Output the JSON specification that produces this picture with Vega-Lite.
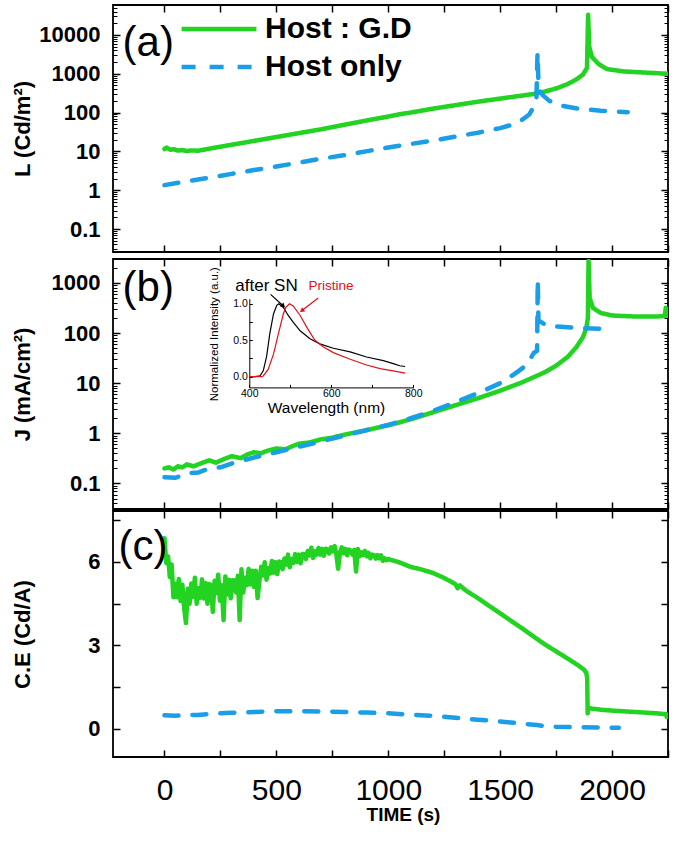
{
"$schema":"https://vega.github.io/schema/vega-lite/v6.json",
"padding":{"left":10,"top":3,"right":0,"bottom":0},
"background":"white",
"config":{"view":{"stroke":"black","strokeWidth":1.8},"font":"Liberation Sans",
 "axis":{"tickColor":"black","tickWidth":1.5,"domain":false,"grid":false,"labelColor":"black","titleColor":"black","labelFont":"Liberation Sans","titleFont":"Liberation Sans","labelOverlap":false,"labelFlush":false}},
"datasets":{
"L":[
{"s":"Host : G.D","t":0,"v":11.5},{"s":"Host : G.D","t":10,"v":12.5},{"s":"Host : G.D","t":20,"v":11.5},{"s":"Host : G.D","t":30,"v":11},{"s":"Host : G.D","t":40,"v":11.4},{"s":"Host : G.D","t":60,"v":10.5},{"s":"Host : G.D","t":80,"v":10.8},{"s":"Host : G.D","t":100,"v":10.2},{"s":"Host : G.D","t":120,"v":10.6},{"s":"Host : G.D","t":150,"v":10.4},{"s":"Host : G.D","t":200,"v":11.7},{"s":"Host : G.D","t":237,"v":12.8},{"s":"Host : G.D","t":300,"v":14.8},{"s":"Host : G.D","t":400,"v":18.6},{"s":"Host : G.D","t":500,"v":23.4},{"s":"Host : G.D","t":600,"v":29.5},{"s":"Host : G.D","t":700,"v":37},{"s":"Host : G.D","t":800,"v":48},{"s":"Host : G.D","t":900,"v":62},{"s":"Host : G.D","t":1000,"v":79},{"s":"Host : G.D","t":1054,"v":91},{"s":"Host : G.D","t":1100,"v":100},{"s":"Host : G.D","t":1200,"v":126},{"s":"Host : G.D","t":1277,"v":148},{"s":"Host : G.D","t":1400,"v":190},{"s":"Host : G.D","t":1500,"v":229},{"s":"Host : G.D","t":1600,"v":275},{"s":"Host : G.D","t":1648,"v":300},{"s":"Host : G.D","t":1700,"v":347},{"s":"Host : G.D","t":1750,"v":417},{"s":"Host : G.D","t":1800,"v":537},{"s":"Host : G.D","t":1840,"v":708},{"s":"Host : G.D","t":1870,"v":955},{"s":"Host : G.D","t":1888,"v":1410},{"s":"Host : G.D","t":1893,"v":33000},{"s":"Host : G.D","t":1898,"v":5000},{"s":"Host : G.D","t":1910,"v":2700},{"s":"Host : G.D","t":1940,"v":1780},{"s":"Host : G.D","t":1977,"v":1320},{"s":"Host : G.D","t":2050,"v":1150},{"s":"Host : G.D","t":2150,"v":1070},{"s":"Host : G.D","t":2250,"v":1000},
{"s":"Host only","t":0,"v":1.35},{"s":"Host only","t":100,"v":1.7},{"s":"Host only","t":200,"v":2.09},{"s":"Host only","t":300,"v":2.63},{"s":"Host only","t":400,"v":3.31},{"s":"Host only","t":500,"v":4.07},{"s":"Host only","t":600,"v":5.13},{"s":"Host only","t":700,"v":6.46},{"s":"Host only","t":800,"v":7.94},{"s":"Host only","t":900,"v":10},{"s":"Host only","t":1000,"v":12.6},{"s":"Host only","t":1100,"v":15.5},{"s":"Host only","t":1200,"v":19.1},{"s":"Host only","t":1300,"v":24},{"s":"Host only","t":1400,"v":30.2},{"s":"Host only","t":1500,"v":39.8},{"s":"Host only","t":1560,"v":50},{"s":"Host only","t":1600,"v":66},{"s":"Host only","t":1630,"v":89},{"s":"Host only","t":1650,"v":141},{"s":"Host only","t":1662,"v":224},{"s":"Host only","t":1667,"v":3500},{"s":"Host only","t":1672,"v":400},{"s":"Host only","t":1690,"v":282},{"s":"Host only","t":1720,"v":200},{"s":"Host only","t":1780,"v":148},{"s":"Host only","t":1850,"v":126},{"s":"Host only","t":1950,"v":112},{"s":"Host only","t":2070,"v":102}
],
"J":[
{"s":"Host : G.D","t":0,"v":0.2},{"s":"Host : G.D","t":20,"v":0.21},{"s":"Host : G.D","t":40,"v":0.19},{"s":"Host : G.D","t":60,"v":0.22},{"s":"Host : G.D","t":80,"v":0.21},{"s":"Host : G.D","t":100,"v":0.24},{"s":"Host : G.D","t":130,"v":0.22},{"s":"Host : G.D","t":160,"v":0.25},{"s":"Host : G.D","t":200,"v":0.29},{"s":"Host : G.D","t":230,"v":0.26},{"s":"Host : G.D","t":260,"v":0.3},{"s":"Host : G.D","t":300,"v":0.35},{"s":"Host : G.D","t":340,"v":0.32},{"s":"Host : G.D","t":370,"v":0.38},{"s":"Host : G.D","t":400,"v":0.42},{"s":"Host : G.D","t":430,"v":0.4},{"s":"Host : G.D","t":460,"v":0.45},{"s":"Host : G.D","t":500,"v":0.5},{"s":"Host : G.D","t":540,"v":0.48},{"s":"Host : G.D","t":570,"v":0.55},{"s":"Host : G.D","t":600,"v":0.62},{"s":"Host : G.D","t":650,"v":0.66},{"s":"Host : G.D","t":700,"v":0.76},{"s":"Host : G.D","t":750,"v":0.82},{"s":"Host : G.D","t":800,"v":0.93},{"s":"Host : G.D","t":900,"v":1.15},{"s":"Host : G.D","t":1000,"v":1.45},{"s":"Host : G.D","t":1100,"v":1.9},{"s":"Host : G.D","t":1200,"v":2.63},{"s":"Host : G.D","t":1300,"v":3.63},{"s":"Host : G.D","t":1400,"v":5.0},{"s":"Host : G.D","t":1500,"v":7.1},{"s":"Host : G.D","t":1600,"v":10.5},{"s":"Host : G.D","t":1700,"v":16.6},{"s":"Host : G.D","t":1750,"v":22.4},{"s":"Host : G.D","t":1800,"v":33},{"s":"Host : G.D","t":1840,"v":52},{"s":"Host : G.D","t":1870,"v":83},{"s":"Host : G.D","t":1885,"v":126},{"s":"Host : G.D","t":1892,"v":200},{"s":"Host : G.D","t":1895,"v":2750},{"s":"Host : G.D","t":1900,"v":500},{"s":"Host : G.D","t":1915,"v":316},{"s":"Host : G.D","t":1950,"v":251},{"s":"Host : G.D","t":2000,"v":224},{"s":"Host : G.D","t":2100,"v":214},{"s":"Host : G.D","t":2200,"v":214},{"s":"Host : G.D","t":2235,"v":219},{"s":"Host : G.D","t":2240,"v":320},{"s":"Host : G.D","t":2245,"v":224},{"s":"Host : G.D","t":2250,"v":219},
{"s":"Host only","t":0,"v":0.133},{"s":"Host only","t":50,"v":0.13},{"s":"Host only","t":100,"v":0.16},{"s":"Host only","t":150,"v":0.165},{"s":"Host only","t":200,"v":0.2},{"s":"Host only","t":250,"v":0.21},{"s":"Host only","t":300,"v":0.25},{"s":"Host only","t":400,"v":0.33},{"s":"Host only","t":500,"v":0.42},{"s":"Host only","t":600,"v":0.54},{"s":"Host only","t":700,"v":0.69},{"s":"Host only","t":800,"v":0.89},{"s":"Host only","t":900,"v":1.15},{"s":"Host only","t":1000,"v":1.48},{"s":"Host only","t":1100,"v":2.0},{"s":"Host only","t":1200,"v":2.82},{"s":"Host only","t":1300,"v":4.17},{"s":"Host only","t":1400,"v":6.3},{"s":"Host only","t":1500,"v":10},{"s":"Host only","t":1560,"v":14.8},{"s":"Host only","t":1600,"v":20},{"s":"Host only","t":1630,"v":28},{"s":"Host only","t":1650,"v":40},{"s":"Host only","t":1665,"v":44},{"s":"Host only","t":1668,"v":1150},{"s":"Host only","t":1671,"v":178},{"s":"Host only","t":1700,"v":148},{"s":"Host only","t":1750,"v":135},{"s":"Host only","t":1850,"v":126},{"s":"Host only","t":1982,"v":120}
],
"CE":[
{"s":"Host : G.D","t":0,"v":6.85},{"s":"Host : G.D","t":8,"v":5.96},{"s":"Host : G.D","t":16,"v":6.2},{"s":"Host : G.D","t":24,"v":5.45},{"s":"Host : G.D","t":32,"v":5.91},{"s":"Host : G.D","t":40,"v":4.73},{"s":"Host : G.D","t":48,"v":5.21},{"s":"Host : G.D","t":56,"v":4.73},{"s":"Host : G.D","t":64,"v":5.38},{"s":"Host : G.D","t":72,"v":4.59},{"s":"Host : G.D","t":80,"v":5.18},{"s":"Host : G.D","t":88,"v":4.33},{"s":"Host : G.D","t":96,"v":3.8},{"s":"Host : G.D","t":104,"v":5.03},{"s":"Host : G.D","t":112,"v":4.49},{"s":"Host : G.D","t":120,"v":5.22},{"s":"Host : G.D","t":128,"v":4.74},{"s":"Host : G.D","t":136,"v":5.43},{"s":"Host : G.D","t":144,"v":4.49},{"s":"Host : G.D","t":152,"v":5.05},{"s":"Host : G.D","t":160,"v":4.71},{"s":"Host : G.D","t":168,"v":5.37},{"s":"Host : G.D","t":176,"v":4.68},{"s":"Host : G.D","t":184,"v":5.23},{"s":"Host : G.D","t":192,"v":4.49},{"s":"Host : G.D","t":200,"v":5.2},{"s":"Host : G.D","t":208,"v":5.16},{"s":"Host : G.D","t":216,"v":4.2},{"s":"Host : G.D","t":224,"v":5.32},{"s":"Host : G.D","t":232,"v":4.88},{"s":"Host : G.D","t":240,"v":5.54},{"s":"Host : G.D","t":248,"v":4.6},{"s":"Host : G.D","t":256,"v":5.16},{"s":"Host : G.D","t":264,"v":3.9},{"s":"Host : G.D","t":272,"v":5.47},{"s":"Host : G.D","t":280,"v":4.83},{"s":"Host : G.D","t":288,"v":5.36},{"s":"Host : G.D","t":296,"v":4.69},{"s":"Host : G.D","t":304,"v":5.34},{"s":"Host : G.D","t":312,"v":5.33},{"s":"Host : G.D","t":320,"v":4.9},{"s":"Host : G.D","t":328,"v":5.5},{"s":"Host : G.D","t":336,"v":3.9},{"s":"Host : G.D","t":344,"v":5.73},{"s":"Host : G.D","t":352,"v":4.9},{"s":"Host : G.D","t":360,"v":5.43},{"s":"Host : G.D","t":368,"v":5.16},{"s":"Host : G.D","t":376,"v":5.74},{"s":"Host : G.D","t":384,"v":5.19},{"s":"Host : G.D","t":392,"v":5.68},{"s":"Host : G.D","t":400,"v":5.1},{"s":"Host : G.D","t":408,"v":5.68},{"s":"Host : G.D","t":416,"v":4.7},{"s":"Host : G.D","t":424,"v":5.3},{"s":"Host : G.D","t":432,"v":5.82},{"s":"Host : G.D","t":440,"v":5.51},{"s":"Host : G.D","t":448,"v":5.99},{"s":"Host : G.D","t":456,"v":5.36},{"s":"Host : G.D","t":464,"v":5.77},{"s":"Host : G.D","t":472,"v":5.58},{"s":"Host : G.D","t":480,"v":6.03},{"s":"Host : G.D","t":488,"v":5.61},{"s":"Host : G.D","t":496,"v":5.99},{"s":"Host : G.D","t":504,"v":5.56},{"s":"Host : G.D","t":512,"v":6.01},{"s":"Host : G.D","t":520,"v":5.99},{"s":"Host : G.D","t":528,"v":5.74},{"s":"Host : G.D","t":536,"v":6.12},{"s":"Host : G.D","t":544,"v":5.9},{"s":"Host : G.D","t":552,"v":6.26},{"s":"Host : G.D","t":560,"v":5.81},{"s":"Host : G.D","t":568,"v":6.1},{"s":"Host : G.D","t":576,"v":5.96},{"s":"Host : G.D","t":584,"v":6.28},{"s":"Host : G.D","t":592,"v":6.0},{"s":"Host : G.D","t":600,"v":6.26},{"s":"Host : G.D","t":608,"v":5.95},{"s":"Host : G.D","t":616,"v":6.28},{"s":"Host : G.D","t":624,"v":6.28},{"s":"Host : G.D","t":632,"v":6.1},{"s":"Host : G.D","t":640,"v":6.39},{"s":"Host : G.D","t":648,"v":6.23},{"s":"Host : G.D","t":656,"v":6.51},{"s":"Host : G.D","t":664,"v":6.14},{"s":"Host : G.D","t":672,"v":6.38},{"s":"Host : G.D","t":680,"v":6.26},{"s":"Host : G.D","t":688,"v":6.5},{"s":"Host : G.D","t":696,"v":6.26},{"s":"Host : G.D","t":704,"v":6.47},{"s":"Host : G.D","t":712,"v":6.22},{"s":"Host : G.D","t":720,"v":6.47},{"s":"Host : G.D","t":728,"v":6.45},{"s":"Host : G.D","t":736,"v":6.3},{"s":"Host : G.D","t":744,"v":6.52},{"s":"Host : G.D","t":752,"v":6.38},{"s":"Host : G.D","t":760,"v":6.57},{"s":"Host : G.D","t":768,"v":6.28},{"s":"Host : G.D","t":776,"v":5.75},{"s":"Host : G.D","t":784,"v":6.33},{"s":"Host : G.D","t":792,"v":6.52},{"s":"Host : G.D","t":800,"v":6.31},{"s":"Host : G.D","t":808,"v":6.47},{"s":"Host : G.D","t":816,"v":6.24},{"s":"Host : G.D","t":824,"v":6.44},{"s":"Host : G.D","t":832,"v":6.41},{"s":"Host : G.D","t":840,"v":6.26},{"s":"Host : G.D","t":848,"v":6.43},{"s":"Host : G.D","t":856,"v":5.65},{"s":"Host : G.D","t":864,"v":6.46},{"s":"Host : G.D","t":872,"v":6.2},{"s":"Host : G.D","t":880,"v":6.34},{"s":"Host : G.D","t":888,"v":6.24},{"s":"Host : G.D","t":896,"v":6.39},{"s":"Host : G.D","t":904,"v":6.2},{"s":"Host : G.D","t":912,"v":6.32},{"s":"Host : G.D","t":920,"v":6.13},{"s":"Host : G.D","t":928,"v":6.26},{"s":"Host : G.D","t":936,"v":6.24},{"s":"Host : G.D","t":944,"v":6.12},{"s":"Host : G.D","t":952,"v":6.24},{"s":"Host : G.D","t":960,"v":6.13},{"s":"Host : G.D","t":968,"v":6.23},{"s":"Host : G.D","t":976,"v":6.04},{"s":"Host : G.D","t":984,"v":6.13},{"s":"Host : G.D","t":992,"v":6.06},{"s":"Host : G.D","t":1000,"v":6.1},{"s":"Host : G.D","t":1050,"v":5.98},{"s":"Host : G.D","t":1100,"v":5.82},{"s":"Host : G.D","t":1150,"v":5.72},{"s":"Host : G.D","t":1200,"v":5.6},{"s":"Host : G.D","t":1250,"v":5.42},{"s":"Host : G.D","t":1300,"v":5.2},{"s":"Host : G.D","t":1310,"v":5.05},{"s":"Host : G.D","t":1320,"v":5.15},{"s":"Host : G.D","t":1350,"v":4.95},{"s":"Host : G.D","t":1400,"v":4.7},{"s":"Host : G.D","t":1450,"v":4.42},{"s":"Host : G.D","t":1500,"v":4.15},{"s":"Host : G.D","t":1550,"v":3.87},{"s":"Host : G.D","t":1600,"v":3.6},{"s":"Host : G.D","t":1650,"v":3.31},{"s":"Host : G.D","t":1700,"v":3.03},{"s":"Host : G.D","t":1750,"v":2.78},{"s":"Host : G.D","t":1800,"v":2.53},{"s":"Host : G.D","t":1850,"v":2.27},{"s":"Host : G.D","t":1875,"v":2.12},{"s":"Host : G.D","t":1885,"v":2.0},{"s":"Host : G.D","t":1889,"v":1.8},{"s":"Host : G.D","t":1891,"v":0.55},{"s":"Host : G.D","t":1894,"v":0.75},{"s":"Host : G.D","t":1910,"v":0.72},{"s":"Host : G.D","t":1950,"v":0.68},{"s":"Host : G.D","t":2000,"v":0.65},{"s":"Host : G.D","t":2100,"v":0.6},{"s":"Host : G.D","t":2200,"v":0.55},{"s":"Host : G.D","t":2240,"v":0.52},{"s":"Host : G.D","t":2245,"v":0.42},{"s":"Host : G.D","t":2250,"v":0.5},
{"s":"Host only","t":0,"v":0.48},{"s":"Host only","t":50,"v":0.46},{"s":"Host only","t":100,"v":0.5},{"s":"Host only","t":150,"v":0.49},{"s":"Host only","t":200,"v":0.53},{"s":"Host only","t":300,"v":0.57},{"s":"Host only","t":400,"v":0.6},{"s":"Host only","t":500,"v":0.63},{"s":"Host only","t":600,"v":0.63},{"s":"Host only","t":700,"v":0.62},{"s":"Host only","t":800,"v":0.6},{"s":"Host only","t":900,"v":0.58},{"s":"Host only","t":1000,"v":0.55},{"s":"Host only","t":1100,"v":0.5},{"s":"Host only","t":1200,"v":0.46},{"s":"Host only","t":1300,"v":0.39},{"s":"Host only","t":1400,"v":0.32},{"s":"Host only","t":1500,"v":0.26},{"s":"Host only","t":1600,"v":0.18},{"s":"Host only","t":1665,"v":0.13},{"s":"Host only","t":1700,"v":0.09},{"s":"Host only","t":1750,"v":0.07},{"s":"Host only","t":1850,"v":0.05},{"s":"Host only","t":1950,"v":0.04},{"s":"Host only","t":2030,"v":0.03}
],
"spec":[
{"s":"after SN","w":400,"i":0},{"s":"after SN","w":414,"i":0},{"s":"after SN","w":426,"i":0.01},{"s":"after SN","w":434,"i":0.08},{"s":"after SN","w":442,"i":0.27},{"s":"after SN","w":450,"i":0.59},{"s":"after SN","w":459,"i":0.86},{"s":"after SN","w":467,"i":0.98},{"s":"after SN","w":472,"i":1.0},{"s":"after SN","w":483,"i":0.95},{"s":"after SN","w":495,"i":0.84},{"s":"after SN","w":507,"i":0.75},{"s":"after SN","w":524,"i":0.63},{"s":"after SN","w":548,"i":0.52},{"s":"after SN","w":572,"i":0.45},{"s":"after SN","w":605,"i":0.39},{"s":"after SN","w":646,"i":0.34},{"s":"after SN","w":686,"i":0.27},{"s":"after SN","w":727,"i":0.22},{"s":"after SN","w":751,"i":0.18},{"s":"after SN","w":767,"i":0.15},{"s":"after SN","w":780,"i":0.14},
{"s":"Pristine","w":400,"i":0},{"s":"Pristine","w":430,"i":0},{"s":"Pristine","w":434,"i":0.01},{"s":"Pristine","w":446,"i":0.1},{"s":"Pristine","w":459,"i":0.31},{"s":"Pristine","w":471,"i":0.59},{"s":"Pristine","w":483,"i":0.86},{"s":"Pristine","w":489,"i":0.95},{"s":"Pristine","w":498,"i":1.0},{"s":"Pristine","w":507,"i":0.97},{"s":"Pristine","w":524,"i":0.84},{"s":"Pristine","w":540,"i":0.68},{"s":"Pristine","w":560,"i":0.5},{"s":"Pristine","w":580,"i":0.41},{"s":"Pristine","w":605,"i":0.33},{"s":"Pristine","w":646,"i":0.24},{"s":"Pristine","w":686,"i":0.16},{"s":"Pristine","w":719,"i":0.11},{"s":"Pristine","w":751,"i":0.08},{"s":"Pristine","w":780,"i":0.05}
]
},
"spacing":-3,
"vconcat":[
{"bounds":"flush","spacing":7,"vconcat":[
{
"width":555,"height":247,
"resolve":{"scale":{"x":"independent","y":"independent"}},
"layer":[
{"data":{"name":"L"},
 "mark":{"type":"line","strokeWidth":4.5,"strokeCap":"round","strokeJoin":"round","clip":true},
 "encoding":{
  "x":{"field":"t","type":"quantitative","scale":{"domain":[-230,2250],"nice":false,"zero":false},"axis":{"orient":"bottom","values":[0,250,500,750,1000,1250,1500,1750,2000,2250],"labels":false,"tickSize":-7,"title":null}},
  "y":{"field":"v","type":"quantitative","scale":{"type":"log","domain":[0.0256,59000],"nice":false},"axis":{"orient":"left","values":[0.1,1,10,100,1000,10000],"labelExpr":"datum.value + ''","labelFontSize":22,"labelFontWeight":"bold","labelPadding":20,"tickSize":-7,"title":"L (Cd/m²)","titleFontSize":22,"titleFontWeight":"bold","titleX":-90.5,"titleY":123.5,"titleAngle":-90,"titleAlign":"center","titleBaseline":"middle"}},
  "color":{"field":"s","type":"nominal","scale":{"domain":["Host : G.D","Host only"],"range":["#22d322","#1a9ee8"]},"legend":{"orient":"none","legendX":66,"legendY":5,"title":null,"symbolType":"stroke","symbolSize":5600,"symbolStrokeWidth":4.5,"labelFont":"Liberation Sans","labelFontSize":30,"labelFontWeight":"bold","labelColor":"black","labelOffset":6,"clipHeight":38,"rowPadding":0,"padding":0}},
  "strokeDash":{"field":"s","type":"nominal","scale":{"domain":["Host : G.D","Host only"],"range":[[1,0],[14,14]]},"legend":{"orient":"none","legendX":66,"legendY":5,"title":null,"symbolType":"stroke","symbolSize":5600,"symbolStrokeWidth":4.5,"labelFont":"Liberation Sans","labelFontSize":30,"labelFontWeight":"bold","labelColor":"black","labelOffset":6,"clipHeight":38,"rowPadding":0,"padding":0}}
 }},
{"data":{"name":"L"},"mark":{"type":"point","opacity":0},
 "encoding":{
  "x":{"field":"t","type":"quantitative","scale":{"domain":[-230,2250],"nice":false,"zero":false},"axis":{"orient":"top","values":[0,250,500,750,1000,1250,1500,1750,2000,2250],"labels":false,"tickSize":-7,"title":null}},
  "y":{"field":"v","type":"quantitative","scale":{"type":"log","domain":[0.0256,59000],"nice":false},"axis":{"orient":"right","values":[0.1,1,10,100,1000,10000],"labels":false,"tickSize":-7,"title":null}}
 }},
{"data":{"name":"L"},"mark":{"type":"point","opacity":0},
 "encoding":{
  "x":{"field":"t","type":"quantitative","scale":{"domain":[-230,2250],"nice":false,"zero":false},"axis":null},
  "y":{"field":"v","type":"quantitative","scale":{"type":"log","domain":[0.0256,59000],"nice":false},"axis":{"orient":"left","values":[0.03,0.04,0.05,0.06,0.07,0.08,0.09,0.2,0.3,0.4,0.5,0.6,0.7,0.8,0.9,2,3,4,5,6,7,8,9,20,30,40,50,60,70,80,90,200,300,400,500,600,700,800,900,2000,3000,4000,5000,6000,7000,8000,9000,20000,30000,40000,50000],"labels":false,"tickSize":-4,"tickWidth":1,"title":null}}
 }},
{"data":{"name":"L"},"mark":{"type":"point","opacity":0},
 "encoding":{
  "x":{"field":"t","type":"quantitative","scale":{"domain":[-230,2250],"nice":false,"zero":false},"axis":null},
  "y":{"field":"v","type":"quantitative","scale":{"type":"log","domain":[0.0256,59000],"nice":false},"axis":{"orient":"right","values":[0.03,0.04,0.05,0.06,0.07,0.08,0.09,0.2,0.3,0.4,0.5,0.6,0.7,0.8,0.9,2,3,4,5,6,7,8,9,20,30,40,50,60,70,80,90,200,300,400,500,600,700,800,900,2000,3000,4000,5000,6000,7000,8000,9000,20000,30000,40000,50000],"labels":false,"tickSize":-4,"tickWidth":1,"title":null}}
 }},
{"data":{"values":[{}]},"mark":{"type":"text","font":"Liberation Sans","fontSize":42,"align":"left","baseline":"middle","color":"black"},
 "encoding":{
  "x":{"datum":-187,"type":"quantitative","scale":{"domain":[-230,2250],"nice":false,"zero":false},"axis":null},
  "y":{"datum":6350,"type":"quantitative","scale":{"type":"log","domain":[0.0256,59000],"nice":false},"axis":null},
  "text":{"value":"(a)"}
 }}
]
},
{
"width":555,"height":250,
"resolve":{"scale":{"x":"independent","y":"independent"}},
"layer":[
{"data":{"name":"J"},
 "mark":{"type":"line","strokeWidth":4.5,"strokeCap":"round","strokeJoin":"round","clip":true},
 "encoding":{
  "x":{"field":"t","type":"quantitative","scale":{"domain":[-230,2250],"nice":false,"zero":false},"axis":{"orient":"bottom","values":[0,250,500,750,1000,1250,1500,1750,2000,2250],"labels":false,"tickSize":-7,"title":null}},
  "y":{"field":"v","type":"quantitative","scale":{"type":"log","domain":[0.031,3000],"nice":false},"axis":{"orient":"left","values":[0.1,1,10,100,1000],"labelExpr":"datum.value + ''","labelFontSize":22,"labelFontWeight":"bold","labelPadding":20,"tickSize":-7,"title":"J (mA/cm²)","titleFontSize":22,"titleFontWeight":"bold","titleX":-90.5,"titleY":125,"titleAngle":-90,"titleAlign":"center","titleBaseline":"middle"}},
  "color":{"field":"s","type":"nominal","scale":{"domain":["Host : G.D","Host only"],"range":["#22d322","#1a9ee8"]},"legend":null},
  "strokeDash":{"field":"s","type":"nominal","scale":{"domain":["Host : G.D","Host only"],"range":[[1,0],[14,14]]},"legend":null}
 }},
{"data":{"name":"J"},"mark":{"type":"point","opacity":0},
 "encoding":{
  "x":{"field":"t","type":"quantitative","scale":{"domain":[-230,2250],"nice":false,"zero":false},"axis":{"orient":"top","values":[0,250,500,750,1000,1250,1500,1750,2000,2250],"labels":false,"tickSize":-7,"title":null}},
  "y":{"field":"v","type":"quantitative","scale":{"type":"log","domain":[0.031,3000],"nice":false},"axis":{"orient":"right","values":[0.1,1,10,100,1000],"labels":false,"tickSize":-7,"title":null}}
 }},
{"data":{"name":"J"},"mark":{"type":"point","opacity":0},
 "encoding":{
  "x":{"field":"t","type":"quantitative","scale":{"domain":[-230,2250],"nice":false,"zero":false},"axis":null},
  "y":{"field":"v","type":"quantitative","scale":{"type":"log","domain":[0.031,3000],"nice":false},"axis":{"orient":"left","values":[0.04,0.05,0.06,0.07,0.08,0.09,0.2,0.3,0.4,0.5,0.6,0.7,0.8,0.9,2,3,4,5,6,7,8,9,20,30,40,50,60,70,80,90,200,300,400,500,600,700,800,900,2000],"labels":false,"tickSize":-4,"tickWidth":1,"title":null}}
 }},
{"data":{"name":"J"},"mark":{"type":"point","opacity":0},
 "encoding":{
  "x":{"field":"t","type":"quantitative","scale":{"domain":[-230,2250],"nice":false,"zero":false},"axis":null},
  "y":{"field":"v","type":"quantitative","scale":{"type":"log","domain":[0.031,3000],"nice":false},"axis":{"orient":"right","values":[0.04,0.05,0.06,0.07,0.08,0.09,0.2,0.3,0.4,0.5,0.6,0.7,0.8,0.9,2,3,4,5,6,7,8,9,20,30,40,50,60,70,80,90,200,300,400,500,600,700,800,900,2000],"labels":false,"tickSize":-4,"tickWidth":1,"title":null}}
 }},
{"data":{"values":[{}]},"mark":{"type":"text","font":"Liberation Sans","fontSize":42,"align":"left","baseline":"middle","color":"black"},
 "encoding":{
  "x":{"datum":-187,"type":"quantitative","scale":{"domain":[-230,2250],"nice":false,"zero":false},"axis":null},
  "y":{"datum":790,"type":"quantitative","scale":{"type":"log","domain":[0.031,3000],"nice":false},"axis":null},
  "text":{"value":"(b)"}
 }},
{"data":{"name":"spec"},"transform":[{"filter":"datum.s == 'after SN'"}],
 "mark":{"type":"line","color":"black","strokeWidth":1.2},
 "encoding":{
  "x":{"field":"w","type":"quantitative","scale":{"domain":[400,800],"range":[136.3,300.3],"nice":false,"zero":false},"axis":{"orient":"bottom","offset":-121.6,"values":[400,500,600,700,800],"labelExpr":"datum.value % 200 == 0 ? datum.value + '' : ''","labelFontSize":10.5,"labelPadding":4,"tickSize":-3,"tickWidth":1,"domain":true,"domainColor":"black","domainWidth":1,"title":"Wavelength (nm)","titleFontSize":15.5,"titleFontWeight":"normal","titleX":213,"titleY":20,"titleAlign":"center","titleBaseline":"middle"}},
  "y":{"field":"i","type":"quantitative","scale":{"domain":[-0.147,1.07],"range":[128.4,39.7],"nice":false,"zero":false},"axis":{"orient":"left","offset":-136.3,"values":[0,0.25,0.5,0.75,1],"labelExpr":"datum.value % 0.5 == 0 ? format(datum.value,'.1f') : ''","labelFontSize":10.5,"labelPadding":5,"tickSize":-3,"tickWidth":1,"domain":true,"domainColor":"black","domainWidth":1,"title":"Normalized Intensity (a.u.)","titleFontSize":11.5,"titleFontWeight":"normal","titleX":-35.3,"titleY":74.7,"titleAngle":-90,"titleAlign":"center","titleBaseline":"middle"}}
 }},
{"data":{"name":"spec"},"transform":[{"filter":"datum.s == 'Pristine'"}],
 "mark":{"type":"line","color":"#e3101a","strokeWidth":1.2},
 "encoding":{
  "x":{"field":"w","type":"quantitative","scale":{"domain":[400,800],"range":[136.3,300.3],"nice":false,"zero":false},"axis":null},
  "y":{"field":"i","type":"quantitative","scale":{"domain":[-0.147,1.07],"range":[128.4,39.7],"nice":false,"zero":false},"axis":null}
 }},
{"data":{"values":[{}]},"mark":{"type":"text","font":"Liberation Sans","fontSize":17,"align":"center","baseline":"middle","color":"black"},
 "encoding":{
  "x":{"datum":442,"type":"quantitative","scale":{"domain":[400,800],"range":[136.3,300.3],"nice":false,"zero":false},"axis":null},
  "y":{"datum":1.24,"type":"quantitative","scale":{"domain":[-0.147,1.07],"range":[128.4,39.7],"nice":false,"zero":false},"axis":null},
  "text":{"value":"after SN"}
 }},
{"data":{"values":[{}]},"mark":{"type":"text","font":"Liberation Sans","fontSize":13.5,"align":"center","baseline":"middle","color":"#e3101a"},
 "encoding":{
  "x":{"datum":599,"type":"quantitative","scale":{"domain":[400,800],"range":[136.3,300.3],"nice":false,"zero":false},"axis":null},
  "y":{"datum":1.24,"type":"quantitative","scale":{"domain":[-0.147,1.07],"range":[128.4,39.7],"nice":false,"zero":false},"axis":null},
  "text":{"value":"Pristine"}
 }},
{"data":{"values":[{}]},"mark":{"type":"rule","color":"black","strokeWidth":1.2},
 "encoding":{
  "x":{"datum":452,"type":"quantitative","scale":{"domain":[400,800],"range":[136.3,300.3],"nice":false,"zero":false},"axis":null},
  "y":{"datum":1.13,"type":"quantitative","scale":{"domain":[-0.147,1.07],"range":[128.4,39.7],"nice":false,"zero":false},"axis":null},
  "x2":{"datum":481},"y2":{"datum":0.98}
 }},
{"data":{"values":[{}]},"mark":{"type":"rule","color":"#e3101a","strokeWidth":1.2},
 "encoding":{
  "x":{"datum":568,"type":"quantitative","scale":{"domain":[400,800],"range":[136.3,300.3],"nice":false,"zero":false},"axis":null},
  "y":{"datum":1.08,"type":"quantitative","scale":{"domain":[-0.147,1.07],"range":[128.4,39.7],"nice":false,"zero":false},"axis":null},
  "x2":{"datum":530},"y2":{"datum":0.915}
 }},
{"data":{"values":[{}]},"mark":{"type":"point","shape":"triangle-up","filled":true,"size":28,"color":"black","opacity":1,"angle":133},
 "encoding":{
  "x":{"datum":483,"type":"quantitative","scale":{"domain":[400,800],"range":[136.3,300.3],"nice":false,"zero":false},"axis":null},
  "y":{"datum":0.97,"type":"quantitative","scale":{"domain":[-0.147,1.07],"range":[128.4,39.7],"nice":false,"zero":false},"axis":null}
 }},
{"data":{"values":[{}]},"mark":{"type":"point","shape":"triangle-up","filled":true,"size":28,"color":"#e3101a","opacity":1,"angle":233},
 "encoding":{
  "x":{"datum":528,"type":"quantitative","scale":{"domain":[400,800],"range":[136.3,300.3],"nice":false,"zero":false},"axis":null},
  "y":{"datum":0.905,"type":"quantitative","scale":{"domain":[-0.147,1.07],"range":[128.4,39.7],"nice":false,"zero":false},"axis":null}
 }}
]
}
]},
{
"width":555,"height":246,
"resolve":{"scale":{"x":"independent","y":"independent"}},
"layer":[
{"data":{"name":"CE"},
 "mark":{"type":"line","strokeWidth":4.5,"strokeCap":"round","strokeJoin":"round","clip":true},
 "encoding":{
  "x":{"field":"t","type":"quantitative","scale":{"domain":[-230,2250],"nice":false,"zero":false},"axis":{"orient":"bottom","values":[0,250,500,750,1000,1250,1500,1750,2000,2250],"format":"d","labelExpr":"datum.value % 500 == 0 ? datum.label : ''","labelFontSize":30,"labelPadding":25,"tickSize":-7,"title":"TIME (s)","titleFontSize":19,"titleFontWeight":"bold","titleX":290,"titleY":63,"titleAlign":"center","titleBaseline":"alphabetic"}},
  "y":{"field":"v","type":"quantitative","scale":{"domain":[-1.02,7.83],"nice":false,"zero":false},"axis":{"orient":"left","values":[0,1.5,3,4.5,6,7.5],"labelExpr":"datum.value % 3 == 0 ? datum.value + '' : ''","labelFontSize":22,"labelFontWeight":"bold","labelPadding":20,"tickSize":-7,"title":"C.E (Cd/A)","titleFontSize":22,"titleFontWeight":"bold","titleX":-90.5,"titleY":123,"titleAngle":-90,"titleAlign":"center","titleBaseline":"middle"}},
  "color":{"field":"s","type":"nominal","scale":{"domain":["Host : G.D","Host only"],"range":["#22d322","#1a9ee8"]},"legend":null},
  "strokeDash":{"field":"s","type":"nominal","scale":{"domain":["Host : G.D","Host only"],"range":[[1,0],[14,14]]},"legend":null}
 }},
{"data":{"name":"CE"},"mark":{"type":"point","opacity":0},
 "encoding":{
  "x":{"field":"t","type":"quantitative","scale":{"domain":[-230,2250],"nice":false,"zero":false},"axis":{"orient":"top","values":[0,250,500,750,1000,1250,1500,1750,2000,2250],"labels":false,"tickSize":-7,"title":null}},
  "y":{"field":"v","type":"quantitative","scale":{"domain":[-1.02,7.83],"nice":false,"zero":false},"axis":{"orient":"right","values":[0,1.5,3,4.5,6,7.5],"labels":false,"tickSize":-7,"title":null}}
 }},
{"data":{"values":[{}]},"mark":{"type":"text","font":"Liberation Sans","fontSize":42,"align":"left","baseline":"middle","color":"black"},
 "encoding":{
  "x":{"datum":-205,"type":"quantitative","scale":{"domain":[-230,2250],"nice":false,"zero":false},"axis":null},
  "y":{"datum":6.54,"type":"quantitative","scale":{"domain":[-1.02,7.83],"nice":false,"zero":false},"axis":null},
  "text":{"value":"(c)"}
 }}
]
}
]
}
